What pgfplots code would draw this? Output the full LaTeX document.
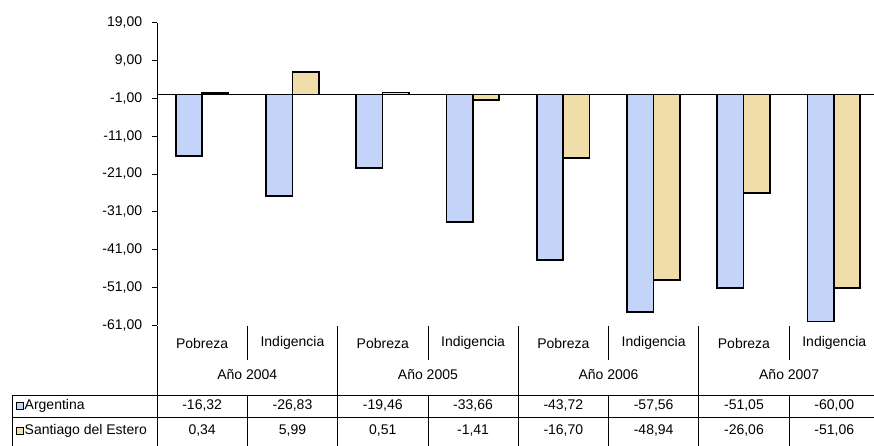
\documentclass[border=0pt]{standalone}
\usepackage{pgfplots}
\pgfplotsset{compat=1.18}
\usepackage{fontspec}
\setmainfont{Liberation Sans}
\definecolor{argblue}{RGB}{196,212,248}
\definecolor{sdetan}{RGB}{240,221,170}

\begin{document}
\fontsize{14}{16}\selectfont
\begin{tikzpicture}[x=1pt, y=1pt]
\useasboundingbox (0,0) rectangle (874,446);
\begin{axis}[
  at={(157pt,120.7pt)}, anchor=south west,
  scale only axis, width=722pt, height=302.6pt,
  xmin=-0.5, xmax=7.5,
  ymin=-61, ymax=19,
  ytick={-61,-51,...,19},
  xtick=\empty,
  axis y line*=left,
  axis x line=none,
  y axis line style={-, line width=0.8pt},
  tick align=outside,
  major tick length=5pt,
  every tick/.style={black, line width=0.8pt},
  yticklabel style={font=\fontsize{14}{16}\selectfont, xshift=-5pt},
  /pgf/number format/.cd, use comma, fixed, fixed zerofill, precision=2, assume math mode=true,
  /pgfplots/.cd,
  ybar, bar width=26.3pt,
  clip=false,
]
\addplot[forget plot, sharp plot, black, line width=0.8pt] coordinates {(-0.5,0) (7.55,0)};
\addplot[draw=black, line width=1.7pt, fill=argblue, bar shift=-13.15pt] coordinates {
  (0,-16.32) (1,-26.83) (2,-19.46) (3,-33.66) (4,-43.72) (5,-57.56) (6,-51.05) (7,-60.00)};
\addplot[draw=black, line width=1.7pt, fill=sdetan, bar shift=13.15pt] coordinates {
  (0,0.34) (1,5.99) (2,0.51) (3,-1.41) (4,-16.70) (5,-48.94) (6,-26.06) (7,-51.06)};
\end{axis}

% data table
\begin{scope}[line width=0.8pt]
  % year separators
  \foreach \k in {0,1,2,3} \draw (157+180.6*\k,120) -- (157+180.6*\k,0);
  % Pobreza | Indigencia short separators
  \foreach \k in {0,1,2,3} \draw (247.3+180.6*\k,120) -- (247.3+180.6*\k,86);
  % data rows
  \draw (12,51) -- (874,51);
  \draw (12,29) -- (874,29);
  \draw (12,51) -- (12,0);
  \foreach \k in {0,1,2,3} \draw (247.3+180.6*\k,51) -- (247.3+180.6*\k,0);
\end{scope}

\foreach \k/\yr in {0/2004,1/2005,2/2006,3/2007} {
  \node at (202.15+180.6*\k,103) {Pobreza};
  \node at (292.45+180.6*\k,103) {Indigencia};
  \node at (247.3+180.6*\k,71) {Año \yr};
}

\foreach \i/\v in {0/{-16,32},1/{-26,83},2/{-19,46},3/{-33,66},4/{-43,72},5/{-57,56},6/{-51,05},7/{-60,00}}
  \node at (202.15+90.3*\i,40) {\v};
\foreach \i/\v in {0/{0,34},1/{5,99},2/{0,51},3/{-1,41},4/{-16,70},5/{-48,94},6/{-26,06},7/{-51,06}}
  \node at (202.15+90.3*\i,15) {\v};

\draw[line width=0.8pt, fill=argblue] (16.5,36.5) rectangle (23.5,43.5);
\node[anchor=west, inner sep=0pt] at (24.5,40) {Argentina};
\draw[line width=0.8pt, fill=sdetan] (16.5,11.5) rectangle (23.5,18.5);
\node[anchor=west, inner sep=0pt] at (24.5,15) {Santiago del Estero};
\end{tikzpicture}
\end{document}
